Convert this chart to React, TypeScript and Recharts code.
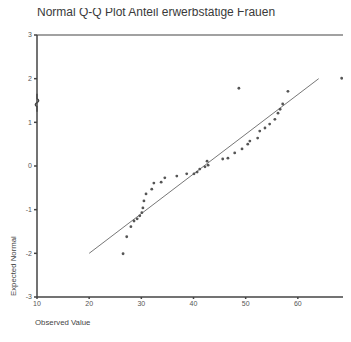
import {
  ReferenceDot,
  ReferenceLine,
  Scatter,
  ScatterChart,
  XAxis,
  YAxis,
} from "recharts";

const observed = [
  26.5, 27.2, 28.0, 28.6, 29.2, 29.7, 30.1, 30.3, 30.5, 30.9, 32.0, 32.4, 33.8, 34.5, 36.8,
  38.7, 40.1, 40.7, 41.2, 42.2, 42.8, 42.6, 45.6, 46.6, 47.9, 49.3, 50.4, 50.8, 52.3, 52.7,
  53.7, 54.6, 55.6, 56.2, 56.6, 57.1, 58.1, 48.7, 68.4,
];
const expected = [
  -2.01, -1.62, -1.39, -1.26, -1.21, -1.14, -1.07, -0.96, -0.8, -0.64, -0.53, -0.39, -0.37,
  -0.27, -0.23, -0.18, -0.18, -0.14, -0.07, -0.02, 0.02, 0.11, 0.16, 0.18, 0.3, 0.39, 0.5,
  0.57, 0.64, 0.8, 0.87, 0.96, 1.07, 1.21, 1.3, 1.42, 1.71, 1.78, 2.01,
];
const xTicks = [10, 20, 30, 40, 50, 60, 70];
const yTicks = [-3, -2, -1, 0, 1, 2, 3];
const lineStart = { x: 20, y: -2 };
const lineEnd = { x: 64, y: 2 };
const breakAt = { x: 10, y: 1.45 };

const points = observed.map((x, i) => ({ x, y: expected[i] }));

const font = "Arial, Liberation Sans, sans-serif";
const tickStyle = { fontSize: 7, fill: "#555", fontFamily: font };

// kleine Achsenunterbrechung links zwischen 1 und 2
function AxisBreak({ cx, cy }: any) {
  if (cx == null || cy == null) return null;
  const x = cx;
  const y = cy;
  return (
    <path
      d={`M${x},${y - 9} L${x},${y - 4} Q${x + 3.5},${y - 2} ${x},${y} Q${x - 3.5},${y + 2} ${x},${y + 4} L${x},${y + 9}`}
      stroke="#444"
      strokeWidth={1.3}
      fill="none"
    />
  );
}

export default function App() {
  return (
    <div style={{ position: "relative", width: 351, height: 342, margin: -8, overflow: "hidden", background: "#fff" }}>
      <div
        style={{
          position: "absolute",
          left: 37,
          top: 5,
          fontFamily: font,
          fontSize: 12,
          color: "#3a3a3a",
          whiteSpace: "nowrap",
        }}
      >
        Normal Q-Q Plot Anteil erwerbstätige Frauen
      </div>
      <ScatterChart width={360} height={342} margin={{ top: 35, right: 10, bottom: 0, left: 0 }}>
        <XAxis
          type="number"
          dataKey="x"
          domain={[10, 70]}
          ticks={xTicks}
          interval={0}
          tick={tickStyle}
          tickSize={2}
          height={45}
          stroke="#444"
          strokeWidth={1.5}
        />
        <YAxis
          type="number"
          dataKey="y"
          domain={[-3, 3]}
          ticks={yTicks}
          interval={0}
          tick={tickStyle}
          tickSize={3}
          width={37}
          stroke="#444"
          strokeWidth={1.5}
        />
        <ReferenceLine y={3} stroke="#444" strokeWidth={1.2} />
        <ReferenceLine
          segment={[lineStart, lineEnd]}
          stroke="#777"
          strokeWidth={1}
          ifOverflow="visible"
        />
        <Scatter
          data={points}
          fill="#555"
          isAnimationActive={false}
          shape={(p: any) => <circle cx={p.cx} cy={p.cy} r={1.4} fill="#555" />}
        />
        <ReferenceDot x={breakAt.x} y={breakAt.y} ifOverflow="visible" shape={AxisBreak} />
      </ScatterChart>
      <div
        style={{
          position: "absolute",
          left: 9,
          top: 296,
          transform: "rotate(-90deg)",
          transformOrigin: "0 0",
          fontFamily: font,
          fontSize: 7.8,
          color: "#444",
          whiteSpace: "nowrap",
        }}
      >
        Expected Normal
      </div>
      <div
        style={{
          position: "absolute",
          left: 35,
          top: 318,
          fontFamily: font,
          fontSize: 7.8,
          color: "#444",
          whiteSpace: "nowrap",
        }}
      >
        Observed Value
      </div>
    </div>
  );
}
